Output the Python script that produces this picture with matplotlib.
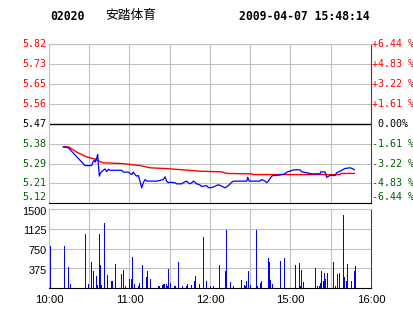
import matplotlib
matplotlib.use("Agg")
import matplotlib.pyplot as plt
from matplotlib import transforms

# Datos del gráfico (02020 安踏体育, 2009-04-07)
prev_close = 5.47
pct_steps = [6.44, 4.83, 3.22, 1.61, 0.0, -1.61, -3.22, -4.83, -6.44]
price_labels = ['5.82', '5.73', '5.65', '5.56', '5.47', '5.38', '5.29', '5.21', '5.12']
pct_labels = ['+6.44 %', '+4.83 %', '+3.22 %', '+1.61 %', ' 0.00%',
              '-1.61 %', '-3.22 %', '-4.83 %', '-6.44 %']
vol_ticks = [375, 750, 1125, 1500]
vol_labels = ['375', '750', '1125', '1500']
time_pos = [0, 60, 120, 180, 240]
time_labels = ['10:00', '11:00', '12:00', '15:00', '16:00']

# minutos de negociación desde las 10:00 (240 en total)
price_min = [10.7, 14.4, 26.8, 31.8, 33.0, 33.8, 34.5, 35.6, 36.3, 36.7, 37.5, 38.5,
             40.5, 41.7, 43.0, 44.2, 45.5, 54.2, 55.4, 59.1, 61.6, 62.8, 64.1, 65.4,
             66.6, 67.8, 69.1, 70.3, 71.6, 72.8, 80.3, 82.7, 85.2, 86.5, 87.7, 88.9,
             90.2, 93.9, 95.2, 98.9, 100.1, 101.4, 102.6, 103.8, 105.1, 106.4, 107.6,
             108.8, 110.1, 112.5, 113.8, 116.3, 117.5, 118.7, 120.0, 122.5, 126.2,
             128.7, 131.2, 133.6, 136.2, 137.4, 147.4, 148.1, 149.3, 157.3, 158.5,
             161.0, 162.3, 163.5, 166.0, 167.2, 169.7, 175.9, 177.2, 179.6, 182.1,
             187.1, 188.4, 192.1, 195.8, 202.0, 202.5, 205.7, 207.0, 209.4, 213.2,
             214.4, 216.9, 220.6, 224.3, 226.1, 227.6]
price = [5.368, 5.364, 5.285, 5.285, 5.304, 5.309, 5.300, 5.319, 5.334, 5.300, 5.238, 5.253,
         5.264, 5.270, 5.258, 5.268, 5.264, 5.264, 5.256, 5.256, 5.245, 5.256, 5.245, 5.238,
         5.241, 5.216, 5.186, 5.209, 5.223, 5.216, 5.216, 5.219, 5.223, 5.235, 5.216, 5.209,
         5.211, 5.209, 5.204, 5.204, 5.209, 5.213, 5.216, 5.209, 5.204, 5.209, 5.216,
         5.211, 5.204, 5.199, 5.192, 5.195, 5.196, 5.188, 5.186, 5.190, 5.200,
         5.194, 5.186, 5.196, 5.211, 5.216, 5.216, 5.233, 5.216, 5.216, 5.223,
         5.216, 5.209, 5.216, 5.238, 5.241, 5.241, 5.248, 5.256, 5.260, 5.266,
         5.266, 5.257, 5.253, 5.248, 5.248, 5.257, 5.257, 5.233, 5.241, 5.241,
         5.253, 5.260, 5.272, 5.275, 5.272, 5.266]

avg_min = [10.7, 14.4, 16.9, 20.7, 24.4, 26.8, 30.6, 34.3, 37.5, 40.5, 54.2, 60.4,
           67.8, 75.3, 88.9, 112.6, 128.7, 132.5, 151.1, 152.3, 216.9, 217.6, 227.6]
avg = [5.368, 5.368, 5.359, 5.344, 5.334, 5.326, 5.319, 5.314, 5.304, 5.297, 5.294, 5.290,
       5.285, 5.275, 5.271, 5.260, 5.257, 5.250, 5.248, 5.245, 5.245, 5.250, 5.250]

vol_min = [1, 11, 14, 16, 27, 29, 31, 33, 35, 36, 37, 38, 39, 41, 43, 46, 47, 49, 54, 55,
           57, 60, 61, 62, 63, 66, 67, 69, 72, 73, 75, 81, 82, 84, 85, 86, 87, 88, 89, 90,
           93, 94, 96, 99, 102, 103, 106, 108, 109, 112, 115, 117, 120, 122, 127, 131, 132,
           135, 137, 143, 145, 146, 147, 148, 150, 154, 155, 157, 158, 163, 164, 165, 166,
           172, 175, 183, 186, 187, 188, 189, 198, 200, 201, 202, 203, 204, 205, 206, 207,
           212, 213, 215, 216, 219, 220, 221, 222, 225, 227, 228]
vol = [800, 800, 400, 75, 1030, 75, 490, 330, 235, 60, 1030, 440, 60, 1240, 250, 140, 125,
       455, 270, 345, 45, 165, 180, 590, 75, 45, 100, 440, 215, 330, 180, 45, 45, 60, 75,
       75, 75, 45, 360, 100, 45, 45, 490, 45, 45, 75, 60, 125, 235, 75, 970, 140, 45, 45,
       440, 330, 1110, 115, 45, 160, 60, 45, 140, 330, 60, 1110, 45, 100, 140, 570, 490,
       160, 75, 510, 570, 440, 475, 45, 345, 115, 380, 45, 45, 100, 330, 140, 290, 180,
       290, 490, 45, 270, 290, 1390, 215, 125, 455, 125, 330, 420]

RED = '#ff0000'
GREEN = '#006000'
GRID = '#c0c0c0'
MONO = 'DejaVu Sans Mono'
SANS = 'Liberation Sans'

fig = plt.figure(figsize=(4.14, 3.14), dpi=100)
fig.patch.set_facecolor('white')

# ---- panel de precios
ax = fig.add_axes([49 / 414, 1 - 203.3 / 314, 322 / 414, 159 / 314])
grid_prices = [prev_close * (1 + p / 100) for p in pct_steps]
ax.set_xlim(0, 240)
ax.set_ylim(grid_prices[-1], grid_prices[0])
for i, gp in enumerate(grid_prices):
    if pct_steps[i] == 0:
        ax.axhline(gp, color='black', lw=1.0, zorder=2)
    else:
        ax.axhline(gp, color=GRID, lw=0.8, zorder=1)
for t in range(30, 240, 30):
    ax.axvline(t, color=GRID, lw=0.8, zorder=1)

ax.plot(avg_min, avg, color=RED, lw=1.0, zorder=3)
ax.plot(price_min, price, color='#0000ff', lw=0.9, zorder=4)

ax.set_xticks([])
ax.set_yticks([])
for s in ['top', 'left']:
    ax.spines[s].set_color(GRID)
ax.spines['bottom'].set_color('black')
ax.spines['right'].set_color('#404040')
for s in ax.spines.values():
    s.set_linewidth(0.8)

trans_l = transforms.blended_transform_factory(ax.transAxes, ax.transData)
for i, gp in enumerate(grid_prices):
    c = RED if pct_steps[i] > 0 else ('black' if pct_steps[i] == 0 else GREEN)
    dy = 6 if i == len(grid_prices) - 1 else 0
    tr = transforms.offset_copy(trans_l, fig=fig, x=0, y=dy, units='dots')
    ax.text(-0.007, gp, price_labels[i], transform=tr, ha='right', va='center',
            color=c, family=MONO, fontsize=7.2)
    ax.text(1.002, gp, pct_labels[i], transform=tr, ha='left', va='center',
            color=c, family=MONO, fontsize=7.2)

# ---- panel de volumen
axv = fig.add_axes([49 / 414, 1 - 288 / 314, 322 / 414, 78.7 / 314])
axv.set_xlim(0, 240)
axv.set_ylim(0, 1500)
for v in vol_ticks[:-1]:
    axv.axhline(v, color=GRID, lw=0.8, zorder=1)
for t in range(30, 240, 30):
    axv.axvline(t, color=GRID, lw=0.8, zorder=1)
axv.vlines(vol_min, 0, vol, color='#0000ff', lw=0.6, zorder=3, antialiased=False)
axv.set_yticks([])
axv.set_xticks(time_pos)
axv.set_xticklabels(time_labels, family=SANS, fontsize=8.2)
axv.tick_params(axis='x', length=0, pad=5)
axv.spines['top'].set_color(GRID)
axv.spines['left'].set_color(GRID)
axv.spines['bottom'].set_color('black')
axv.spines['right'].set_color('#404040')
for s in axv.spines.values():
    s.set_linewidth(0.8)

trans_v = transforms.blended_transform_factory(axv.transAxes, axv.transData)
trans_v = transforms.offset_copy(trans_v, fig=fig, x=0, y=-2.5, units='dots')
for v, lab in zip(vol_ticks, vol_labels):
    axv.text(-0.007, v, lab, transform=trans_v, ha='right', va='center',
             family=SANS, fontsize=7.8, color='black')

# ---- cabecera
fig.text(50 / 414, 1 - 16.5 / 314, '02020', family=MONO, weight='bold',
         fontsize=8.3, va='center', ha='left')
fig.text(105 / 414, 1 - 16 / 314, '安踏体育', family=['Noto Sans CJK SC', 'DejaVu Sans'],
         fontsize=9.2, va='center', ha='left')
fig.text(370 / 414, 1 - 16.5 / 314, '2009-04-07 15:48:14', family=MONO, weight='bold',
         fontsize=8.3, va='center', ha='right')

fig.savefig('out.png', dpi=100)
